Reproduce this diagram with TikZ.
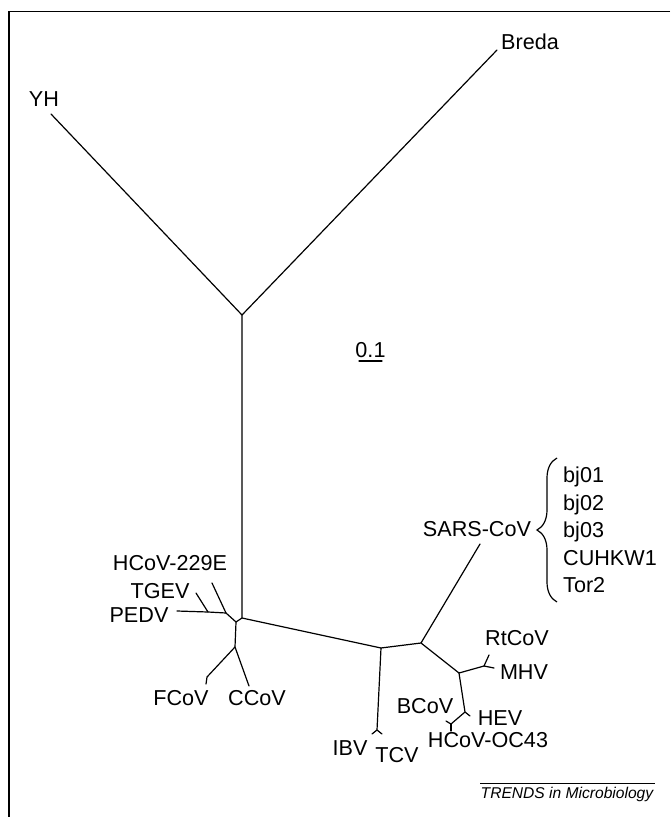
\documentclass[tikz,border=0pt]{standalone}
\usepackage{fontspec}
\setmainfont{Liberation Sans}
\usetikzlibrary{decorations.pathreplacing}
\colorlet{colRama}{black}
\colorlet{colMarco}{black}
\tikzset{
  rama/.style={draw=colRama, line width=1.2pt, line cap=round, line join=round},
  marco/.style={draw=colMarco, line width=1.5pt},
  etiquetaHoja/.style={font=\fontsize{21.6}{27.6}\selectfont, inner sep=0pt, text=colRama},
  etiquetaPie/.style={font=\fontsize{15.6}{18}\selectfont\itshape, inner sep=0pt, text=colRama},
  llave/.style={draw=colRama, line width=1.2pt, decorate, decoration={brace, amplitude=20pt}},
}

\begin{document}
\begin{tikzpicture}[x=1pt, y=-1pt]
    \useasboundingbox (0,0) rectangle (670,817);
    \draw[marco] (670,11.5) -- (9,11.5) -- (9,817);

    % nodos internos y puntas
    \coordinate (nY) at (242,315);
    \coordinate (n1) at (242,618);
    \coordinate (n2) at (236,622);
    \coordinate (n3) at (226,613);
    \coordinate (n4) at (235,647);
    \coordinate (n5) at (381,648);
    \coordinate (n6) at (421,643);
    \coordinate (n7) at (459,673);
    \coordinate (n8) at (465,712);
    \coordinate (nTGEV) at (208,612);
    \coordinate (nFCoV) at (207,677);
    \coordinate (nIBV) at (377,730);
    \coordinate (nMHV) at (484,666);
    \coordinate (nBCoV) at (451,724);
    \coordinate (puntaYH) at (51,114);
    \coordinate (puntaBreda) at (497,50);
    \coordinate (punta229E) at (212,583);
    \coordinate (puntaTGEV) at (196,593);
    \coordinate (puntaPEDV) at (177,611);
    \coordinate (puntaFCoV) at (206,684);
    \coordinate (puntaCCoV) at (249,686);
    \coordinate (puntaIBV) at (372,734);
    \coordinate (puntaTCV) at (382,734);
    \coordinate (puntaSARS) at (480,544);
    \coordinate (puntaRtCoV) at (489,655);
    \coordinate (puntaMHV) at (494,668);
    \coordinate (puntaHEV) at (470,716);
    \coordinate (puntaBCoV) at (446,721);
    \coordinate (puntaOC43) at (451,731);

    % ramas
    \draw[rama] (puntaYH) -- (nY) -- (puntaBreda);
    \draw[rama] (nY) -- (n1) -- (n2) -- (n3) -- (punta229E);
    \draw[rama] (n3) -- (nTGEV) -- (puntaPEDV);
    \draw[rama] (nTGEV) -- (puntaTGEV);
    \draw[rama] (n2) -- (n4) -- (nFCoV) -- (puntaFCoV);
    \draw[rama] (n4) -- (puntaCCoV);
    \draw[rama] (n1) -- (n5) -- (n6) -- (puntaSARS);
    \draw[rama] (n5) -- (nIBV) -- (puntaIBV);
    \draw[rama] (nIBV) -- (puntaTCV);
    \draw[rama] (n6) -- (n7) -- (nMHV) -- (puntaRtCoV);
    \draw[rama] (nMHV) -- (puntaMHV);
    \draw[rama] (n7) -- (n8) -- (puntaHEV);
    \draw[rama] (n8) -- (nBCoV) -- (puntaBCoV);
    \draw[rama] (nBCoV) -- (puntaOC43);

    % etiquetas
    \node[etiquetaHoja] (etqYH) at (44,99) {YH};
    \node[etiquetaHoja] (etqBreda) at (530,42) {Breda};
    \node[etiquetaHoja] (etq229E) at (170,563) {HCoV-229E};
    \node[etiquetaHoja] (etqTGEV) at (160,591) {TGEV};
    \node[etiquetaHoja] (etqPEDV) at (139,615) {PEDV};
    \node[etiquetaHoja] (etqFCoV) at (181,698) {FCoV};
    \node[etiquetaHoja] (etqCCoV) at (257,698) {CCoV};
    \node[etiquetaHoja] (etqIBV) at (350,748) {IBV};
    \node[etiquetaHoja] (etqTCV) at (397,755) {TCV};
    \node[etiquetaHoja] (etqSARS) at (477,529) {SARS-CoV};
    \node[etiquetaHoja] (etqRtCoV) at (517,638) {RtCoV};
    \node[etiquetaHoja] (etqMHV) at (524,672) {MHV};
    \node[etiquetaHoja] (etqBCoV) at (425,706) {BCoV};
    \node[etiquetaHoja] (etqHEV) at (500,718) {HEV};
    \node[etiquetaHoja] (etqOC43) at (488,740) {HCoV-OC43};
    \node[etiquetaHoja, anchor=west, align=left] (cepas) at (563,530)
      {bj01\\bj02\\bj03\\CUHKW1\\Tor2};

    % llave de cepas SARS
    \coordinate (llaveAbajo) at (557,602);
    \coordinate (llaveArriba) at (557,458);
    \draw[llave] (llaveAbajo) -- (llaveArriba);

    % escala
    \node[etiquetaHoja] (etqEscala) at (370.5,350) {0.1};
    \coordinate (escalaIzq) at (359,361);
    \coordinate (escalaDer) at (382,361);
    \draw[rama] (escalaIzq) -- (escalaDer);

    % pie
    \coordinate (pieIzq) at (480,783.5);
    \coordinate (pieDer) at (655,783.5);
    \draw[line width=1pt] (pieIzq) -- (pieDer);
    \node[etiquetaPie] (pie) at (567,794) {TRENDS in Microbiology};
\end{tikzpicture}
\end{document}
